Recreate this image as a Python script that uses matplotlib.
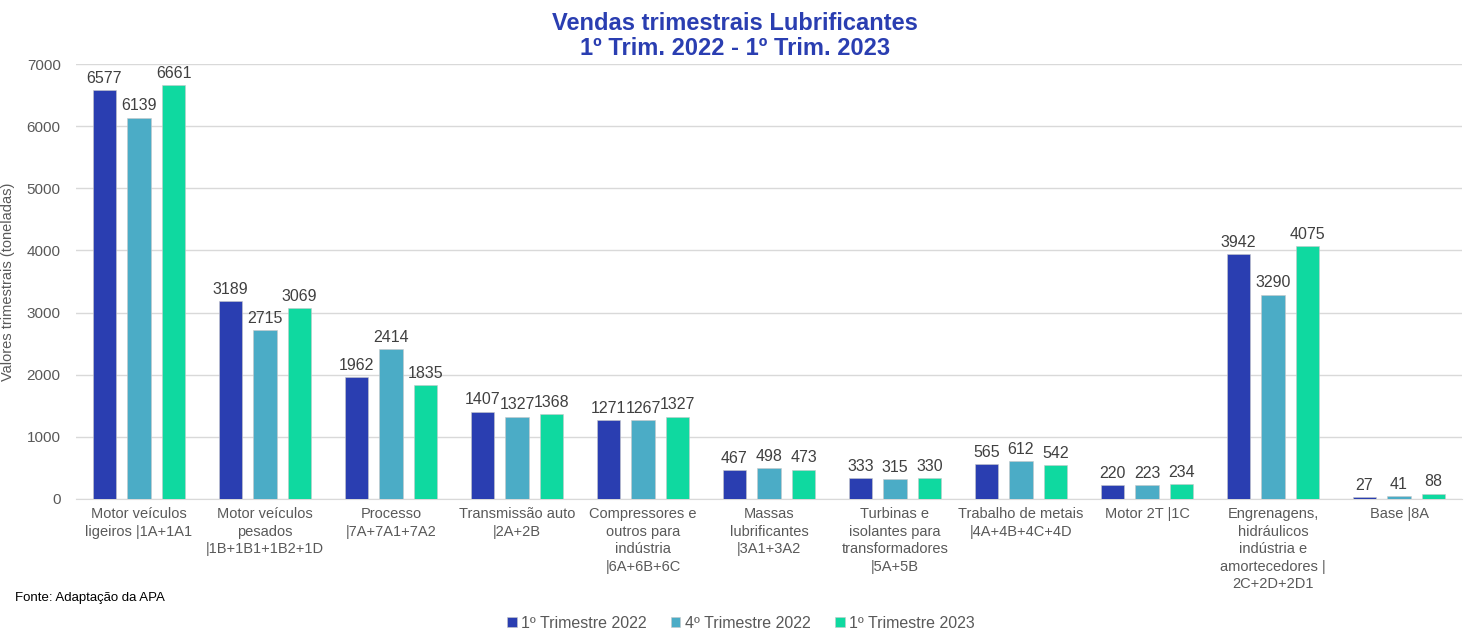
import numpy as np
import matplotlib.pyplot as plt

plt.rcParams['font.family'] = ['Liberation Sans', 'DejaVu Sans']

categories = [
    "Motor veículos\nligeiros |1A+1A1",
    "Motor veículos\npesados\n|1B+1B1+1B2+1D",
    "Processo\n|7A+7A1+7A2",
    "Transmissão auto\n|2A+2B",
    "Compressores e\noutros para\nindústria\n|6A+6B+6C",
    "Massas\nlubrificantes\n|3A1+3A2",
    "Turbinas e\nisolantes para\ntransformadores\n|5A+5B",
    "Trabalho de metais\n|4A+4B+4C+4D",
    "Motor 2T |1C",
    "Engrenagens,\nhidráulicos\nindústria e\namortecedores |\n2C+2D+2D1",
    "Base |8A",
]
series_names = ["1º Trimestre 2022", "4º Trimestre 2022", "1º Trimestre 2023"]
t1_2022 = [6577, 3189, 1962, 1407, 1271, 467, 333, 565, 220, 3942, 27]
t4_2022 = [6139, 2715, 2414, 1327, 1267, 498, 315, 612, 223, 3290, 41]
t1_2023 = [6661, 3069, 1835, 1368, 1327, 473, 330, 542, 234, 4075, 88]

colors = ["#2a3eb1", "#4bacc6", "#0fd9a0"]
grey = "#595959"

fig = plt.figure(figsize=(14.7, 6.33), dpi=100)
ax = fig.add_axes([76 / 1470, 1 - 499 / 633, 1386 / 1470, 435 / 633])

x = np.arange(len(categories))
width = 0.183
step = 0.274
for i, (vals, name) in enumerate(zip([t1_2022, t4_2022, t1_2023], series_names)):
    bars = ax.bar(x + (i - 1) * step, vals, width, color=colors[i], label=name,
                  edgecolor="#c8c8c8", linewidth=0.4, zorder=3)
    ax.bar_label(bars, labels=[str(v) for v in vals], padding=3,
                 fontsize=11.5, color="#404040")

ax.set_xlim(-0.5, len(categories) - 0.5)
ax.set_ylim(0, 7000)
ax.set_yticks(range(0, 7001, 1000))
ax.grid(axis='y', color="#d9d9d9", linewidth=1, zorder=0)
ax.set_xticks(x)
ax.set_xticklabels(categories, fontsize=10.5, color=grey, linespacing=1.32)
ax.tick_params(axis='both', length=0, labelcolor=grey)
ax.tick_params(axis='y', labelsize=11, pad=11)
ax.tick_params(axis='x', pad=6)
for s in ['top', 'right', 'left']:
    ax.spines[s].set_visible(False)
ax.spines['bottom'].set_color("#d9d9d9")

ax.set_ylabel("Valores trimestrais (toneladas)", fontsize=10.5, color=grey)
ax.yaxis.set_label_coords(-61 / 1386, 0.5)

fig.text(0.5, 1 - 36 / 633, "Vendas trimestrais Lubrificantes\n1º Trim. 2022 - 1º Trim. 2023",
         ha='center', va='center', fontsize=17, fontweight='bold', color="#2a3eb1",
         linespacing=1.1)

fig.text(15 / 1470, 1 - 598 / 633, "Fonte: Adaptação da APA", fontsize=9.5,
         color="#000000", va='center')

leg = fig.legend(loc='center', bbox_to_anchor=(741 / 1470, 1 - 623 / 633), ncol=3,
                 frameon=False, fontsize=11.5, handlelength=0.6, handleheight=0.6,
                 handletextpad=0.3, columnspacing=1.5)
for t in leg.get_texts():
    t.set_color(grey)

fig.savefig("out.png", dpi=100)
